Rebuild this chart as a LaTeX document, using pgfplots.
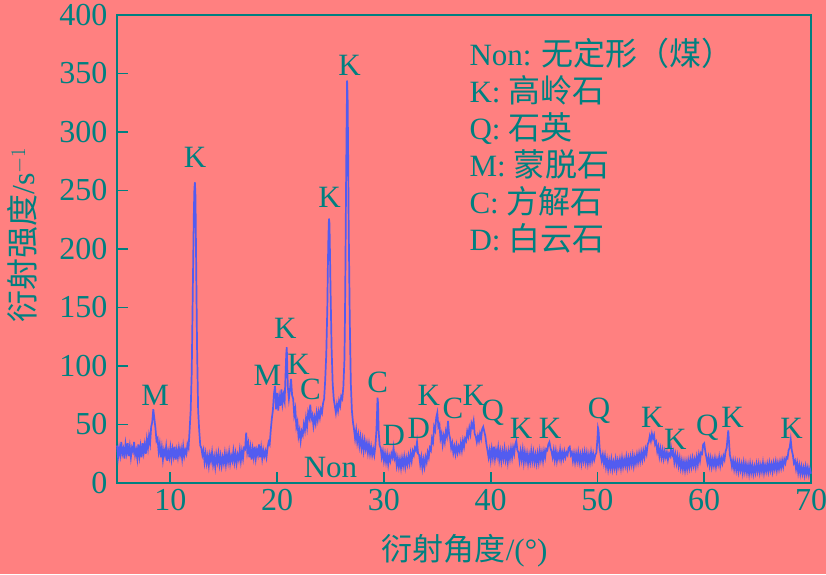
\documentclass[border=0pt]{standalone}
\usepackage{fontspec}
\setmainfont{Liberation Serif}
\newfontfamily\cjk{Noto Sans CJK SC}
\usepackage{pgfplots}
\pgfplotsset{compat=1.18}
\definecolor{bgc}{RGB}{255,128,128}
\definecolor{tl}{RGB}{0,128,128}
\definecolor{ln}{RGB}{82,92,240}
\tikzset{lab/.style={tl, font=\fontsize{31}{31}\selectfont, anchor=center, inner sep=0pt}}
\begin{document}
\begin{tikzpicture}
\fill[bgc] (-117pt,-91pt) rectangle (709pt,483pt);
\begin{axis}[
  at={(0pt,0pt)}, anchor=south west,
  scale only axis, width=694pt, height=468pt,
  xmin=5, xmax=70, ymin=0, ymax=400,
  xtick={10,20,...,70}, ytick={0,50,...,400},
  xtick pos=bottom, ytick pos=left,
  tick align=inside, major tick length=11pt,
  axis line style={tl, line width=2pt},
  every tick/.style={tl, line width=1.8pt},
  tick label style={tl, font=\fontsize{32}{32}\selectfont},
  /pgf/number format/assume math mode=true,
  xticklabel style={yshift=-3pt},
  yticklabel style={xshift=-6pt},
  clip=false,
  axis background/.style={fill=bgc},
  xlabel={{\cjk 衍射角度}/(°)},
  ylabel={{\cjk 衍射强度}/s$^{-1}$},
  xlabel style={tl, font=\fontsize{31}{31}\selectfont, at={(axis description cs:0.501,-0.145)}, anchor=center},
  ylabel style={tl, font=\fontsize{32}{32}\selectfont, at={(axis description cs:-0.137,0.53)}, anchor=center},
]
\addplot[ln, line width=1.7pt] coordinates {
(5.0,32)(5.1,22)(5.2,30)(5.3,24)(5.4,35)(5.5,25)(5.6,29)(5.7,21)(5.8,33)(5.9,26)
(6.0,34)(6.1,23)(6.2,31)(6.3,22)(6.4,30)(6.5,27)(6.6,35)(6.7,24)(6.8,28)(6.9,21)
(7.0,33)(7.1,23)(7.2,31)(7.3,22)(7.4,34)(7.5,26)(7.6,33)(7.7,25)(7.8,37)(7.9,30)
(8.0,40)(8.1,34)(8.2,48)(8.3,52)(8.4,63)(8.5,55)(8.6,47)(8.7,36)(8.8,38)(8.9,27)
(9.0,33)(9.1,22)(9.2,30)(9.3,20)(9.4,28)(9.5,24)(9.6,31)(9.7,19)(9.8,27)(9.9,22)
(10.0,30)(10.1,21)(10.2,29)(10.3,23)(10.4,31)(10.5,20)(10.6,28)(10.7,22)(10.8,30)(10.9,24)
(11.0,29)(11.1,21)(11.2,31)(11.3,23)(11.4,28)(11.5,25)(11.6,33)(11.7,30)(11.8,45)(11.9,62)
(12.0,95)(12.1,165)(12.2,232)(12.25,252)(12.3,257)(12.35,245)(12.4,200)(12.5,115)(12.6,62)(12.7,45)(12.8,32)(12.9,30)
(13.0,24)(13.1,28)(13.2,18)(13.3,25)(13.4,17)(13.5,23)(13.6,15)(13.7,24)(13.8,19)(13.9,26)
(14.0,16)(14.1,22)(14.2,14)(14.3,24)(14.4,18)(14.5,25)(14.6,16)(14.7,23)(14.8,15)(14.9,22)
(15.0,17)(15.1,25)(15.2,16)(15.3,24)(15.4,18)(15.5,26)(15.6,17)(15.7,23)(15.8,19)(15.9,27)
(16.0,18)(16.1,25)(16.2,17)(16.3,24)(16.4,20)(16.5,28)(16.6,19)(16.7,27)(16.8,21)(16.9,30)
(17.0,29)(17.1,43)(17.2,27)(17.3,33)(17.4,22)(17.5,30)(17.6,20)(17.7,29)(17.8,22)(17.9,31)
(18.0,21)(18.1,28)(18.2,24)(18.3,33)(18.4,22)(18.5,30)(18.6,21)(18.7,28)(18.8,23)(18.9,27)
(19.0,22)(19.1,30)(19.2,35)(19.3,33)(19.4,45)(19.5,55)(19.6,62)(19.7,76)(19.8,83)(19.9,63)
(20.0,77)(20.1,62)(20.2,73)(20.3,66)(20.4,80)(20.5,68)(20.6,75)(20.7,70)(20.8,96)(20.85,110)(20.9,116)(20.95,100)(21.0,82)
(21.1,72)(21.2,80)(21.3,89)(21.4,75)(21.5,72)(21.6,58)(21.7,63)(21.8,48)(21.9,52)(22.0,40)
(22.1,45)(22.2,36)(22.3,44)(22.4,41)(22.5,50)(22.6,45)(22.7,55)(22.8,48)(22.9,60)(23.0,56)
(23.1,67)(23.2,55)(23.3,58)(23.4,49)(23.5,56)(23.6,51)(23.7,60)(23.8,54)(23.9,61)(24.0,56)
(24.1,63)(24.2,60)(24.3,68)(24.4,72)(24.5,88)(24.6,110)(24.7,150)(24.75,185)(24.8,210)(24.85,226)(24.9,222)(24.95,195)(25.0,165)(25.1,115)
(25.2,85)(25.3,72)(25.4,66)(25.5,60)(25.6,67)(25.7,62)(25.8,70)(25.9,66)(26.0,74)(26.1,72)
(26.2,82)(26.3,105)(26.35,140)(26.4,190)(26.45,250)(26.5,300)(26.55,344)(26.6,330)(26.65,280)(26.7,220)(26.8,140)(26.9,85)
(27.0,62)(27.1,52)(27.2,46)(27.3,38)(27.4,45)(27.5,35)(27.6,41)(27.7,32)(27.8,39)(27.9,30)
(28.0,37)(28.1,28)(28.2,36)(28.3,29)(28.4,34)(28.5,26)(28.6,33)(28.7,25)(28.8,31)(28.9,24)
(29.0,29)(29.1,24)(29.2,32)(29.3,45)(29.35,58)(29.4,73)(29.45,68)(29.5,45)(29.6,32)(29.7,30)(29.8,22)(29.9,27)
(30.0,19)(30.1,25)(30.2,18)(30.3,24)(30.4,16)(30.5,23)(30.6,19)(30.7,25)(30.8,22)(30.9,30)
(31.0,21)(31.1,24)(31.2,15)(31.3,21)(31.4,14)(31.5,20)(31.6,13)(31.7,21)(31.8,15)(31.9,22)
(32.0,14)(32.1,21)(32.2,16)(32.3,23)(32.4,17)(32.5,25)(32.6,19)(32.7,27)(32.8,24)(32.9,30)
(33.0,28)(33.1,35)(33.2,25)(33.3,24)(33.4,16)(33.5,22)(33.6,13)(33.7,20)(33.8,14)(33.9,22)
(34.0,18)(34.1,26)(34.2,22)(34.3,30)(34.4,28)(34.5,38)(34.6,35)(34.7,48)(34.8,45)(34.9,56)
(35.0,60)(35.1,48)(35.2,50)(35.3,38)(35.4,42)(35.5,33)(35.6,40)(35.7,35)(35.8,44)(35.9,40)
(36.0,53)(36.1,42)(36.2,38)(36.3,30)(36.4,34)(36.5,26)(36.6,31)(36.7,25)(36.8,32)(36.9,26)
(37.0,31)(37.1,27)(37.2,34)(37.3,28)(37.4,36)(37.5,31)(37.6,38)(37.7,36)(37.8,44)(37.9,40)
(38.0,47)(38.1,42)(38.2,51)(38.3,48)(38.4,53)(38.5,42)(38.6,40)(38.7,35)(38.8,40)(38.9,36)
(39.0,42)(39.1,38)(39.2,46)(39.3,48)(39.4,44)(39.5,40)(39.6,33)(39.7,28)(39.8,22)(39.9,28)
(40.0,20)(40.1,29)(40.2,22)(40.3,31)(40.4,21)(40.5,28)(40.6,23)(40.7,30)(40.8,20)(40.9,27)
(41.0,19)(41.1,27)(41.2,21)(41.3,29)(41.4,20)(41.5,26)(41.6,18)(41.7,27)(41.8,21)(41.9,29)
(42.0,22)(42.1,30)(42.2,25)(42.3,33)(42.4,36)(42.5,28)(42.6,26)(42.7,19)(42.8,27)(42.9,20)
(43.0,28)(43.1,18)(43.2,26)(43.3,19)(43.4,25)(43.5,17)(43.6,24)(43.7,18)(43.8,27)(43.9,19)
(44.0,26)(44.1,18)(44.2,24)(44.3,17)(44.4,25)(44.5,18)(44.6,27)(44.7,20)(44.8,26)(44.9,19)
(45.0,27)(45.1,22)(45.2,29)(45.3,28)(45.4,33)(45.5,35)(45.6,30)(45.7,27)(45.8,22)(45.9,28)
(46.0,20)(46.1,27)(46.2,19)(46.3,25)(46.4,21)(46.5,28)(46.6,20)(46.7,26)(46.8,21)(46.9,27)
(47.0,22)(47.1,26)(47.2,24)(47.3,30)(47.4,31)(47.5,24)(47.6,26)(47.7,19)(47.8,25)(47.9,18)
(48.0,25)(48.1,19)(48.2,26)(48.3,18)(48.4,24)(48.5,17)(48.6,25)(48.7,19)(48.8,26)(48.9,18)
(49.0,25)(49.1,17)(49.2,24)(49.3,18)(49.4,26)(49.5,19)(49.6,25)(49.7,20)(49.8,24)(49.9,26)
(50.0,38)(50.05,47)(50.1,45)(50.2,30)(50.3,24)(50.4,19)(50.5,24)(50.6,17)(50.7,23)(50.8,14)(50.9,20)
(51.0,12)(51.1,19)(51.2,13)(51.3,20)(51.4,12)(51.5,18)(51.6,13)(51.7,20)(51.8,12)(51.9,19)
(52.0,14)(52.1,20)(52.2,13)(52.3,21)(52.4,14)(52.5,20)(52.6,15)(52.7,22)(52.8,14)(52.9,21)
(53.0,15)(53.1,22)(53.2,16)(53.3,23)(53.4,15)(53.5,22)(53.6,17)(53.7,24)(53.8,18)(53.9,25)
(54.0,19)(54.1,26)(54.2,20)(54.3,27)(54.4,22)(54.5,29)(54.6,25)(54.7,33)(54.8,35)(54.9,40)
(55.0,36)(55.1,42)(55.2,38)(55.3,41)(55.4,33)(55.5,35)(55.6,27)(55.7,31)(55.8,23)(55.9,29)
(56.0,22)(56.1,28)(56.2,21)(56.3,27)(56.4,22)(56.5,26)(56.6,20)(56.7,25)(56.8,23)(56.9,30)
(57.0,24)(57.1,27)(57.2,18)(57.3,24)(57.4,17)(57.5,23)(57.6,15)(57.7,21)(57.8,13)(57.9,19)
(58.0,12)(58.1,18)(58.2,11)(58.3,18)(58.4,12)(58.5,19)(58.6,13)(58.7,20)(58.8,14)(58.9,21)
(59.0,15)(59.1,20)(59.2,14)(59.3,22)(59.4,16)(59.5,24)(59.6,19)(59.7,26)(59.8,25)(59.9,33)
(60.0,34)(60.1,27)(60.2,22)(60.3,17)(60.4,22)(60.5,15)(60.6,21)(60.7,14)(60.8,20)(60.9,15)
(61.0,21)(61.1,14)(61.2,20)(61.3,16)(61.4,22)(61.5,15)(61.6,21)(61.7,17)(61.8,23)(61.9,20)
(62.0,27)(62.1,30)(62.2,40)(62.25,45)(62.3,38)(62.4,24)(62.5,20)(62.6,14)(62.7,19)(62.8,12)(62.9,18)
(63.0,11)(63.1,17)(63.2,10)(63.3,17)(63.4,11)(63.5,16)(63.6,9)(63.7,17)(63.8,10)(63.9,16)
(64.0,9)(64.1,15)(64.2,8)(64.3,16)(64.4,9)(64.5,15)(64.6,8)(64.7,14)(64.8,9)(64.9,16)
(65.0,10)(65.1,16)(65.2,9)(65.3,15)(65.4,10)(65.5,17)(65.6,9)(65.7,15)(65.8,10)(65.9,16)
(66.0,10)(66.1,17)(66.2,11)(66.3,16)(66.4,10)(66.5,17)(66.6,12)(66.7,18)(66.8,11)(66.9,17)
(67.0,12)(67.1,18)(67.2,13)(67.3,19)(67.4,14)(67.5,20)(67.6,17)(67.7,22)(67.8,21)(67.9,28)
(68.0,30)(68.1,37)(68.2,28)(68.3,24)(68.4,17)(68.5,19)(68.6,12)(68.7,17)(68.8,9)(68.9,15)
(69.0,8)(69.1,14)(69.2,8)(69.3,13)(69.4,7)(69.5,14)(69.6,8)(69.7,13)(69.8,7)(69.9,12)(70.0,8)
};
\node[lab] at (axis cs:8.57,75) {M};
\node[lab] at (axis cs:12.32,278) {K};
\node[lab] at (axis cs:19.08,92) {M};
\node[lab] at (axis cs:20.77,132) {K};
\node[lab] at (axis cs:22.0,101) {K};
\node[lab] at (axis cs:23.12,80) {C};
\node[lab] at (axis cs:24.9,244) {K};
\node[lab] at (axis cs:26.78,357) {K};
\node[lab] at (axis cs:29.41,86) {C};
\node[lab] at (axis cs:30.92,41) {D};
\node[lab] at (axis cs:33.26,47) {D};
\node[lab] at (axis cs:34.2,75) {K};
\node[lab] at (axis cs:36.46,64) {C};
\node[lab] at (axis cs:38.43,75) {K};
\node[lab] at (axis cs:40.21,60) {Q};
\node[lab] at (axis cs:42.84,47) {K};
\node[lab] at (axis cs:45.56,47) {K};
\node[lab] at (axis cs:50.16,62) {Q};
\node[lab] at (axis cs:55.14,56) {K};
\node[lab] at (axis cs:57.3,37) {K};
\node[lab] at (axis cs:60.3,47) {Q};
\node[lab] at (axis cs:62.65,56) {K};
\node[lab] at (axis cs:68.19,47) {K};
\node[lab] at (axis cs:25.0,13) {Non};
\node[tl, anchor=north west, align=left, inner sep=0pt, font=\fontsize{31}{37}\selectfont]
  at (axis cs:38.0,380) {Non: {\cjk\fontsize{32}{37}\selectfont 无定形（煤）}\\K: {\cjk\fontsize{32}{37}\selectfont 高岭石}\\Q: {\cjk\fontsize{32}{37}\selectfont 石英}\\M: {\cjk\fontsize{32}{37}\selectfont 蒙脱石}\\C: {\cjk\fontsize{32}{37}\selectfont 方解石}\\D: {\cjk\fontsize{32}{37}\selectfont 白云石}};
\end{axis}
\pgfresetboundingbox
\path[use as bounding box] (-117pt,-91pt) rectangle (709pt,483pt);
\end{tikzpicture}
\end{document}
